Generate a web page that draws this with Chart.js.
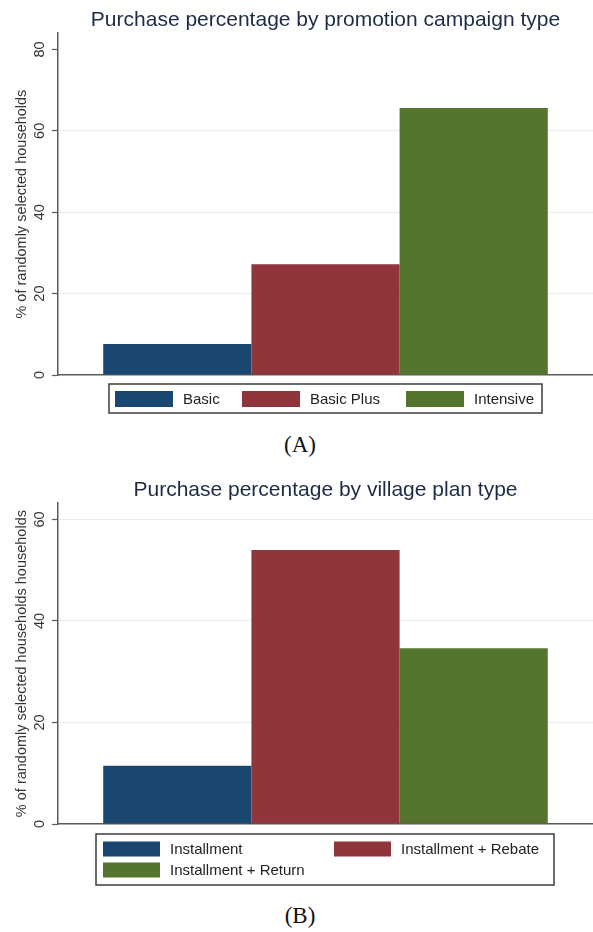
<!DOCTYPE html>
<html>
<head>
<meta charset="utf-8">
<script src="https://cdn.jsdelivr.net/npm/chart.js@4/dist/chart.umd.min.js"></script>
<style>
  body { margin: 0; background: #fff; }
  #wrap { position: relative; width: 593px; height: 932px; overflow: hidden; background: #fff; }
  canvas { position: absolute; left: 0; }
  .cap { position: absolute; left: 0; width: 600px; text-align: center;
         font-family: "Liberation Serif", "Times New Roman", serif; font-size: 23px; color: #111; line-height: 26px; }
</style>
</head>
<body>
<div id="wrap">
  <canvas id="chartA" width="593" height="425" style="top:0px"></canvas>
  <div class="cap" style="top:432px">(A)</div>
  <canvas id="chartB" width="593" height="430" style="top:470px"></canvas>
  <div class="cap" style="top:903px">(B)</div>
</div>
<script>
// panel A
var titleA = 'Purchase percentage by promotion campaign type';
var yTitleA = '% of randomly selected households';
var categoriesA = ['Basic', 'Basic Plus', 'Intensive'];
var valuesA = [7.6, 27.2, 65.6];
var ticksA = [0, 20, 40, 60, 80];
var gridA = [20, 40, 60];

// panel B
var titleB = 'Purchase percentage by village plan type';
var yTitleB = '% of randomly selected households households';
var categoriesB = ['Installment', 'Installment + Rebate', 'Installment + Return'];
var valuesB = [11.5, 54.0, 34.6];
var ticksB = [0, 20, 40, 60];
var gridB = [20, 40, 60];

var barColors = ['#1a476f', '#90353b', '#55752f'];
var axisColor = '#5a5a5a';
var textColor = '#3a3431';
var sans = '"Liberation Sans", Arial, sans-serif';

// rotated y tick labels, Stata style
var yTickLabels = {
    id: 'yTickLabels',
    afterDraw: function(chart) {
        var s = chart.scales.y;
        var ctx = chart.ctx;
        ctx.save();
        ctx.fillStyle = textColor;
        ctx.font = '14.5px ' + sans;
        ctx.textAlign = 'center';
        ctx.textBaseline = 'middle';
        for (var i = 0; i < s.ticks.length; i++) {
            var y = s.getPixelForValue(s.ticks[i].value);
            ctx.save();
            ctx.translate(40, y);
            ctx.rotate(-Math.PI / 2);
            ctx.fillText(String(s.ticks[i].value), 0, 0);
            ctx.restore();
        }
        ctx.restore();
    }
};

// boxed legend with fixed columns
var boxLegend = {
    id: 'boxLegend',
    afterDraw: function(chart, args, opts) {
        var ctx = chart.ctx;
        var ds = chart.data.datasets;
        ctx.save();
        ctx.strokeStyle = '#3c3c3c';
        ctx.lineWidth = 1.5;
        ctx.strokeRect(opts.x, opts.y, opts.w, opts.h);
        ctx.font = '15px ' + sans;
        ctx.textAlign = 'left';
        ctx.textBaseline = 'middle';
        for (var i = 0; i < ds.length; i++) {
            var col = i % opts.cols.length;
            var row = Math.floor(i / opts.cols.length);
            var sx = opts.cols[col];
            var cy = opts.rows[row];
            ctx.fillStyle = ds[i].backgroundColor;
            ctx.fillRect(sx, cy - opts.sh / 2, opts.sw, opts.sh);
            ctx.fillStyle = '#222';
            ctx.fillText(ds[i].label, sx + opts.sw + 10, cy + 1);
        }
        ctx.restore();
    }
};

function makeChart(id, title, yTitle, cats, vals, ticks, grid, yMax, legendOpts) {
    var datasets = [];
    for (var i = 0; i < cats.length; i++) {
        datasets.push({
            label: cats[i],
            data: [vals[i]],
            backgroundColor: barColors[i],
            borderWidth: 0,
            categoryPercentage: 0.831,
            barPercentage: 1
        });
    }
    return new Chart(document.getElementById(id), {
        type: 'bar',
        data: { labels: [''], datasets: datasets },
        plugins: [yTickLabels, boxLegend],
        options: {
            responsive: false,
            animation: false,
            layout: { padding: { top: 0, right: 0, bottom: legendOpts.bottom, left: 0 } },
            plugins: {
                legend: { display: false },
                tooltip: { enabled: false },
                title: {
                    display: true,
                    text: title,
                    fullSize: false,
                    color: '#1e2b47',
                    font: { family: sans, size: 21, weight: 'normal' },
                    padding: { top: 8, bottom: 0 }
                },
                boxLegend: legendOpts
            },
            scales: {
                x: {
                    type: 'category',
                    grid: { display: false },
                    ticks: { display: false },
                    border: { display: true, color: axisColor, width: 1.5 },
                    afterFit: function(s) { s.height = 0; }
                },
                y: {
                    min: 0,
                    max: yMax,
                    afterBuildTicks: function(s) {
                        s.ticks = ticks.map(function(v) { return { value: v }; });
                    },
                    afterFit: function(s) { s.width = 58; },
                    ticks: { display: false },
                    grid: {
                        color: function(c) {
                            return grid.indexOf(c.tick.value) >= 0 ? '#e6eef0' : 'rgba(0,0,0,0)';
                        },
                        lineWidth: 1,
                        drawTicks: true,
                        tickLength: 6,
                        tickColor: axisColor,
                        tickWidth: 1.2
                    },
                    border: { display: true, color: axisColor, width: 1.5 },
                    title: {
                        display: true,
                        text: yTitle,
                        color: textColor,
                        font: { family: sans, size: 14.5 },
                        padding: { top: 13, bottom: 0 }
                    }
                }
            }
        }
    });
}

makeChart('chartA', titleA, yTitleA, categoriesA, valuesA, ticksA, gridA, 84, {
    bottom: 50, x: 109, y: 384, w: 433, h: 29,
    cols: [115, 242, 406], rows: [399], sw: 58, sh: 16
});

makeChart('chartB', titleB, yTitleB, categoriesB, valuesB, ticksB, gridB, 63.2, {
    bottom: 76, x: 96, y: 364, w: 458, h: 51,
    cols: [103, 334], rows: [379, 400], sw: 57, sh: 15
});
</script>
</body>
</html>
